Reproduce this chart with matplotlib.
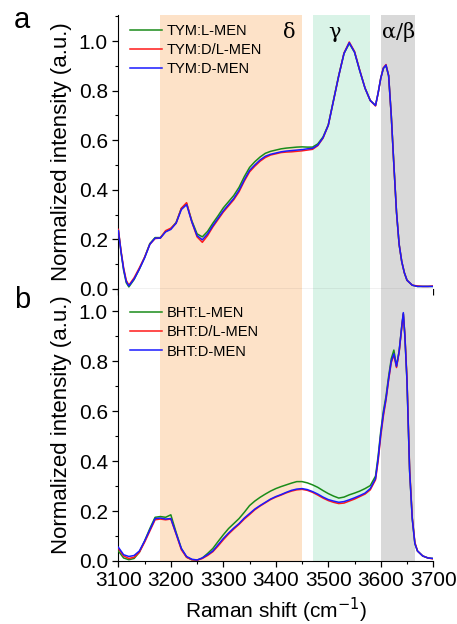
import matplotlib
matplotlib.use("Agg")
import matplotlib.pyplot as plt
from matplotlib.ticker import MultipleLocator

plt.rcParams['font.family'] = ['Liberation Sans', 'DejaVu Sans']

# ---------------- data: top panel (TYM) ----------------
x_top = [3100, 3105, 3110, 3115, 3120, 3130, 3140, 3150, 3160, 3170, 3180, 3190, 3200,
         3210, 3220, 3230, 3240, 3250, 3260, 3270, 3280, 3290, 3300, 3310, 3320, 3330,
         3340, 3350, 3360, 3370, 3380, 3390, 3400, 3410, 3420, 3430, 3440, 3450, 3460,
         3470, 3480, 3490, 3500, 3510, 3520, 3530, 3540, 3550, 3560, 3570, 3580, 3590,
         3595, 3600, 3605, 3610, 3615, 3620, 3625, 3630, 3635, 3640, 3645, 3650, 3660,
         3670, 3680, 3690, 3700]
tym_d = [0.235, 0.15, 0.08, 0.03, 0.012, 0.04, 0.08, 0.125, 0.18, 0.205, 0.205, 0.23, 0.24,
         0.265, 0.32, 0.34, 0.27, 0.215, 0.198, 0.222, 0.255, 0.285, 0.315, 0.34, 0.365, 0.398,
         0.44, 0.478, 0.50, 0.52, 0.535, 0.543, 0.548, 0.553, 0.556, 0.558, 0.56, 0.562, 0.565,
         0.567, 0.58, 0.61, 0.66, 0.76, 0.86, 0.95, 0.993, 0.955, 0.88, 0.81, 0.76, 0.74,
         0.79, 0.85, 0.89, 0.903, 0.86, 0.70, 0.50, 0.31, 0.18, 0.11, 0.065, 0.035, 0.015,
         0.01, 0.01, 0.01, 0.01]
tym_l = [0.235, 0.15, 0.075, 0.025, 0.008, 0.038, 0.08, 0.127, 0.183, 0.207, 0.207, 0.232, 0.243,
         0.268, 0.325, 0.345, 0.275, 0.222, 0.21, 0.232, 0.265, 0.295, 0.327, 0.352, 0.377, 0.41,
         0.453, 0.49, 0.513, 0.532, 0.547, 0.555, 0.56, 0.565, 0.568, 0.57, 0.572, 0.573, 0.572,
         0.572, 0.585, 0.613, 0.662, 0.762, 0.862, 0.95, 0.99, 0.955, 0.88, 0.81, 0.76, 0.74,
         0.79, 0.85, 0.89, 0.90, 0.86, 0.70, 0.50, 0.31, 0.18, 0.11, 0.065, 0.035, 0.015,
         0.01, 0.01, 0.01, 0.01]
tym_dl = [0.24, 0.155, 0.085, 0.035, 0.015, 0.045, 0.085, 0.128, 0.18, 0.203, 0.205, 0.235, 0.245,
          0.265, 0.325, 0.348, 0.27, 0.21, 0.188, 0.215, 0.25, 0.28, 0.31, 0.335, 0.36, 0.392,
          0.435, 0.472, 0.495, 0.515, 0.53, 0.54, 0.545, 0.55, 0.552, 0.553, 0.555, 0.557, 0.56,
          0.563, 0.578, 0.608, 0.66, 0.76, 0.86, 0.952, 0.996, 0.958, 0.882, 0.81, 0.76, 0.738,
          0.79, 0.85, 0.892, 0.905, 0.86, 0.70, 0.50, 0.31, 0.18, 0.11, 0.065, 0.035, 0.015,
          0.012, 0.01, 0.01, 0.012]

# ---------------- data: bottom panel (BHT) ----------------
x_bot = [3100, 3110, 3120, 3130, 3140, 3150, 3160, 3170, 3180, 3190, 3200, 3210, 3220,
         3230, 3240, 3250, 3260, 3270, 3280, 3290, 3300, 3310, 3320, 3330, 3340, 3350,
         3360, 3370, 3380, 3390, 3400, 3410, 3420, 3430, 3440, 3450, 3460, 3470, 3480,
         3490, 3500, 3510, 3520, 3530, 3540, 3550, 3560, 3570, 3580, 3590, 3595, 3600,
         3605, 3610, 3615, 3620, 3625, 3630, 3635, 3640, 3643, 3646, 3650, 3655, 3660,
         3665, 3670, 3680, 3690, 3700]
bht_d = [0.055, 0.025, 0.018, 0.022, 0.04, 0.08, 0.125, 0.17, 0.172, 0.168, 0.17, 0.11, 0.05,
         0.018, 0.007, 0.004, 0.012, 0.025, 0.04, 0.065, 0.09, 0.112, 0.132, 0.15, 0.172, 0.19,
         0.208, 0.222, 0.235, 0.248, 0.258, 0.266, 0.275, 0.283, 0.288, 0.29, 0.286, 0.278, 0.268,
         0.256, 0.246, 0.24, 0.235, 0.238, 0.245, 0.253, 0.262, 0.272, 0.29, 0.33, 0.41, 0.51,
         0.59, 0.65, 0.73, 0.80, 0.83, 0.78, 0.84, 0.94, 0.995, 0.90, 0.72, 0.36, 0.17,
         0.07, 0.04, 0.02, 0.012, 0.01]
bht_l = [0.04, 0.012, 0.005, 0.01, 0.035, 0.08, 0.13, 0.175, 0.178, 0.175, 0.185, 0.115, 0.05,
         0.015, 0.005, 0.003, 0.012, 0.03, 0.05, 0.078, 0.105, 0.13, 0.15, 0.17, 0.195, 0.222,
         0.24, 0.255, 0.268, 0.28, 0.29, 0.298, 0.305, 0.312, 0.318, 0.318, 0.313, 0.305, 0.295,
         0.282, 0.27, 0.26, 0.252, 0.256, 0.265, 0.272, 0.28, 0.29, 0.302, 0.34, 0.42, 0.52,
         0.60, 0.66, 0.74, 0.81, 0.845, 0.78, 0.84, 0.94, 0.99, 0.90, 0.72, 0.36, 0.17,
         0.07, 0.04, 0.02, 0.012, 0.01]
bht_dl = [0.05, 0.02, 0.01, 0.015, 0.035, 0.075, 0.12, 0.165, 0.168, 0.165, 0.168, 0.108, 0.045,
          0.015, 0.005, 0.003, 0.01, 0.022, 0.037, 0.06, 0.085, 0.108, 0.128, 0.147, 0.168, 0.186,
          0.205, 0.22, 0.233, 0.246, 0.256, 0.264, 0.273, 0.28, 0.285, 0.287, 0.283, 0.275, 0.264,
          0.252, 0.242, 0.235, 0.23, 0.232, 0.24, 0.248, 0.258, 0.268, 0.285, 0.325, 0.40, 0.50,
          0.58, 0.645, 0.725, 0.795, 0.825, 0.775, 0.835, 0.935, 0.99, 0.905, 0.73, 0.37, 0.175,
          0.075, 0.04, 0.02, 0.012, 0.008]

labels_top = ["TYM:L-MEN", "TYM:D/L-MEN", "TYM:D-MEN"]
labels_bot = ["BHT:L-MEN", "BHT:D/L-MEN", "BHT:D-MEN"]
regions = [(3180, 3450), (3470, 3580), (3600, 3665)]
region_names = ["δ", "γ", "α/β"]

C_GREEN = "#1a8c1a"
C_RED = "#ff1a1a"
C_BLUE = "#1a1aff"
region_colors = ["#fde2c8", "#d9f3e7", "#d9d9d9"]

fig = plt.figure(figsize=(4.57, 6.24), dpi=100)
ax1 = fig.add_axes([0.259, 0.537, 0.689, 0.439])
ax2 = fig.add_axes([0.259, 0.101, 0.689, 0.436])

def style(ax, ymax, show_x):
    for r, c in zip(regions, region_colors):
        ax.axvspan(r[0], r[1], color=c, lw=0, zorder=0)
    ax.set_xlim(3100, 3700)
    ax.set_ylim(0, ymax)
    ax.spines['top'].set_visible(False)
    ax.spines['right'].set_visible(False)
    ax.xaxis.set_major_locator(MultipleLocator(100))
    ax.xaxis.set_minor_locator(MultipleLocator(50))
    ax.yaxis.set_major_locator(MultipleLocator(0.2))
    ax.yaxis.set_minor_locator(MultipleLocator(0.1))
    ax.tick_params(which='major', direction='out', length=4.5, width=0.9, labelsize=15, pad=3)
    ax.tick_params(which='minor', direction='out', length=2.5, width=0.8)
    ax.set_yticks([0.0, 0.2, 0.4, 0.6, 0.8, 1.0])
    ax.set_yticklabels(["0.0", "0.2", "0.4", "0.6", "0.8", "1.0"])
    if not show_x:
        ax.tick_params(axis='x', labelbottom=False)
    ax.set_ylabel("Normalized intensity (a.u.)", fontsize=16, labelpad=5)

style(ax1, 1.105, False)
style(ax2, 1.09, True)

ax1.plot(x_top, tym_l, color=C_GREEN, lw=1.1, label=labels_top[0], zorder=3)
ax1.plot(x_top, tym_dl, color=C_RED, lw=1.1, label=labels_top[1], zorder=4)
ax1.plot(x_top, tym_d, color=C_BLUE, lw=1.1, label=labels_top[2], zorder=5)

ax2.plot(x_bot, bht_l, color=C_GREEN, lw=1.1, label=labels_bot[0], zorder=3)
ax2.plot(x_bot, bht_dl, color=C_RED, lw=1.1, label=labels_bot[1], zorder=4)
ax2.plot(x_bot, bht_d, color=C_BLUE, lw=1.1, label=labels_bot[2], zorder=5)

for ax, ytop in ((ax1, 0.967), (ax2, 0.936)):
    ax.legend(loc='upper left', bbox_to_anchor=(0.037, ytop), frameon=False, fontsize=10.5,
              handlelength=2.2, handletextpad=0.34, labelspacing=0.35, borderaxespad=0,
              borderpad=0)

label_x = [3425, 3511, 3633]
for name, xx in zip(region_names, label_x):
    ax1.text(xx, 1.035, name, ha='center', va='center', fontsize=15,
             family=['DejaVu Serif'])

ax2.set_xlabel("Raman shift (cm$^{-1}$)", fontsize=15, labelpad=4)

fig.text(0.048, 0.968, "a", fontsize=21, ha='center', va='center')
fig.text(0.048, 0.520, "b", fontsize=21, ha='center', va='center')

fig.savefig("out.png", dpi=100)
